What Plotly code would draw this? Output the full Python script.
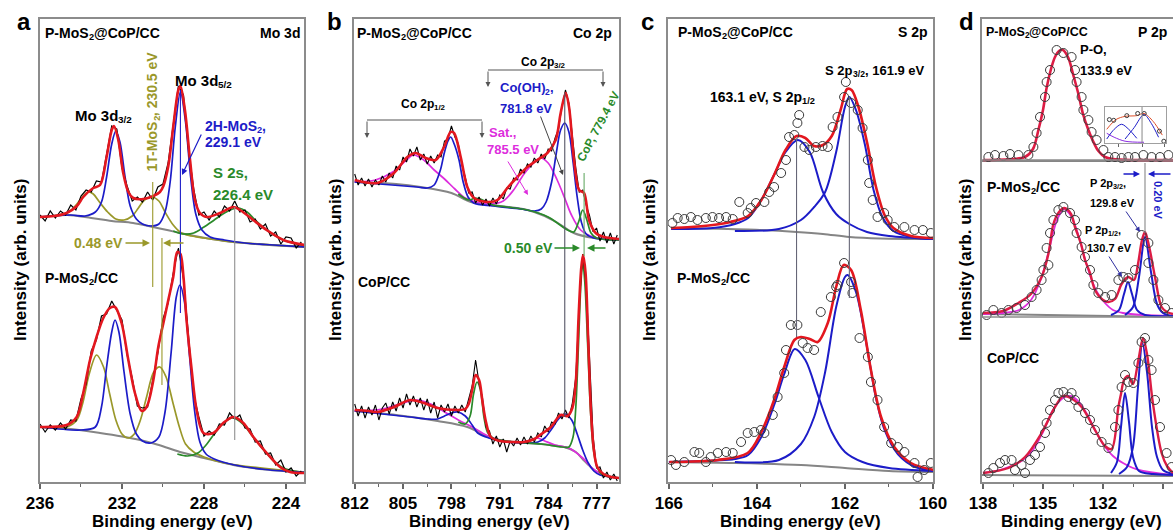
import plotly.graph_objects as go

# ---------------- Panel a : Mo 3d ----------------
A_RAW_E = [236.0, 235.75, 235.5, 235.25, 235.0, 234.75, 234.5, 234.25, 234.0, 233.75, 233.5, 233.25, 233.0,
           232.75, 232.5, 232.25, 232.0, 231.75, 231.5, 231.25, 231.0, 230.75, 230.5, 230.25, 230.0, 229.75,
           229.5, 229.25, 229.0, 228.75, 228.5, 228.25, 228.0, 227.75, 227.5, 227.25, 227.0, 226.75, 226.5,
           226.25, 226.0, 225.75, 225.5, 225.25, 225.0, 224.75, 224.5, 224.25, 224.0, 223.75, 223.5, 223.25]
A1_RAW = [267, 261, 271, 264, 271, 267, 277, 272, 286, 292, 290, 301, 300, 328, 356, 353, 314, 296, 281, 285,
          280, 290, 282, 295, 298, 319, 358, 396, 387, 332, 293, 267, 270, 262, 271, 265, 276, 271, 281, 270,
          272, 260, 263, 253, 258, 246, 250, 238, 245, 244, 234, 240]
A2_RAW = [58, 50, 57, 52, 59, 53, 62, 61, 83, 98, 131, 142, 166, 168, 181, 171, 162, 127, 104, 76, 74, 75, 103,
          129, 163, 179, 209, 234, 203, 143, 87, 65, 46, 51, 47, 58, 57, 69, 63, 67, 54, 53, 40, 41, 28, 29, 17,
          22, 10, 14, 6, 11]

A1_FIT_E = [236.0, 235.3, 234.7, 234.2, 233.89, 233.4, 233.07, 232.75, 232.5, 232.39, 232.18, 231.94, 231.69,
            231.45, 230.96, 230.47, 230.15, 229.98, 229.74, 229.5, 229.25, 229.15, 228.93, 228.68, 228.44, 228.2,
            227.87, 227.22, 226.57, 226.24, 225.6, 224.94, 224.13, 223.1]
A1_FIT = [265, 266, 269, 276, 285, 294, 297, 325, 352, 356, 342, 309, 290, 284, 283, 286, 290, 296, 316, 355,
          392, 396, 372, 322, 282, 269, 265, 269, 275, 272, 262, 252, 242, 237]
A1_BG_E = [236, 234.68, 233.5, 232.5, 231.46, 230.5, 229.8, 229.17, 228.2, 227.3, 226.59, 225.5, 224.5, 223.1]
A1_BG = [265, 267, 264, 261, 259, 255, 252, 249, 245, 242, 240, 238, 236.5, 235]
A1_BLUE_E = [236, 234.5, 233.8, 233.3, 233.0, 232.75, 232.5, 232.3, 232.1, 231.85, 231.6, 231.3, 231.0, 230.6,
             230.2, 229.9, 229.65, 229.4, 229.15, 228.9, 228.65, 228.4, 228.1, 227.7, 227.0, 226.0, 225.0, 223.1]
A1_BLUE = [265, 267, 266, 270, 280, 305, 338, 351, 340, 305, 276, 263, 258, 256, 258, 270, 300, 355, 390, 360,
           305, 268, 252, 245, 242, 239, 237.5, 235]
A1_OLIVE_E = [236, 235.2, 234.6, 234.2, 233.9, 233.66, 233.4, 233.1, 232.7, 232.3, 231.9, 231.5, 231.2, 230.9,
              230.54, 230.2, 229.9, 229.5, 229.1, 228.6, 228.0, 227.3, 226.6, 223.1]
A1_OLIVE = [265, 266.5, 270, 278, 286, 290, 288, 280, 270, 263, 262, 266, 274, 282, 285, 281, 270, 257, 249, 246,
            244, 242, 240, 235]
A1_GREEN_E = [229.5, 229.0, 228.5, 228.0, 227.5, 227.0, 226.6, 226.3, 225.9, 225.5, 225.0, 224.5, 224.0, 223.1]
A1_GREEN = [251, 248, 249, 255, 262, 269, 273, 274, 270, 262, 253, 246, 241, 236]

A2_FIT_E = [236.0, 234.7, 234.21, 233.89, 233.56, 233.24, 232.91, 232.59, 232.34, 232.02, 231.69, 231.37, 231.04,
            230.8, 230.47, 230.23, 229.98, 229.74, 229.5, 229.3, 229.15, 229.0, 228.85, 228.6, 228.36, 228.03,
            227.54, 227.06, 226.57, 226.08, 225.59, 224.94, 224.29, 223.8, 223.1]
A2_FIT = [55, 57, 65, 89, 122, 145, 164, 174, 175, 159, 122, 89, 71, 75, 102, 135, 159, 182, 205, 230, 228, 205,
          162, 112, 72, 49, 49, 59, 65, 59, 45, 29, 15, 10, 9]
A2_BG_E = [236, 234.5, 233.07, 232, 231.12, 230.2, 229.17, 228, 226.57, 225, 223.1]
A2_BG = [55, 53, 49, 45.5, 42, 37, 30, 24, 17, 12.5, 9.5]
A2_BLUE_E = [236, 234.0, 233.3, 233.0, 232.75, 232.5, 232.34, 232.15, 231.9, 231.6, 231.3, 231.0, 230.6, 230.2,
             229.9, 229.6, 229.35, 229.17, 228.95, 228.7, 228.45, 228.2, 227.9, 227.5, 226.5, 225.0, 223.1]
A2_BLUE = [55, 52, 55, 75, 115, 150, 162, 150, 110, 68, 48, 41, 39, 45, 70, 130, 185, 197, 180, 125, 70, 40, 28,
           23, 17, 12.5, 9.5]
A2_OLIVE_E = [236, 234.7, 234.2, 233.9, 233.6, 233.24, 232.9, 232.6, 232.3, 232.0, 231.7, 231.4, 231.1, 230.8,
              230.45, 230.15, 229.85, 229.5, 229.2, 228.9, 228.5, 228.0, 227.0, 223.1]
A2_OLIVE = [55, 55, 62, 80, 108, 127, 115, 88, 62, 48, 44, 48, 62, 85, 110, 115, 105, 78, 55, 38, 30, 25, 19, 9.5]
A2_GREEN_E = [229.3, 228.8, 228.3, 227.9, 227.5, 227.1, 226.6, 226.1, 225.6, 225.0, 224.5, 224.0, 223.1]
A2_GREEN = [28, 26, 29, 37, 48, 58, 64, 58, 45, 30, 19, 13, 9.5]

# ---------------- Panel b : Co 2p ----------------
B_RAW_E = [812.0, 811.5, 811.0, 810.5, 810.0, 809.5, 809.0, 808.5, 808.0, 807.5, 807.0, 806.5, 806.0, 805.5,
           805.0, 804.5, 804.0, 803.5, 803.0, 802.5, 802.0, 801.5, 801.0, 800.5, 800.0, 799.5, 799.0, 798.5,
           798.0, 797.5, 797.0, 796.5, 796.0, 795.5, 795.0, 794.5, 794.0, 793.5, 793.0, 792.5, 792.0, 791.5,
           791.0, 790.5, 790.0, 789.5, 789.0, 788.5, 788.0, 787.5, 787.0, 786.5, 786.0, 785.5, 785.0, 784.5,
           784.0, 783.5, 783.0, 782.5, 782.0, 781.5, 781.0, 780.5, 780.0, 779.5, 779.0, 778.5, 778.0, 777.5,
           777.0, 776.5, 776.0, 775.5, 775.0, 774.5, 774.0]
B1_RAW = [308, 297, 304, 296, 303, 295, 302, 297, 306, 300, 309, 304, 316, 312, 325, 320, 333, 326, 335, 322,
          328, 318, 326, 319, 327, 325, 341, 343, 356, 345, 338, 317, 305, 289, 290, 279, 285, 277, 283, 276,
          284, 278, 287, 283, 294, 293, 304, 302, 313, 309, 318, 315, 324, 319, 328, 323, 333, 331, 344, 353,
          376, 392, 379, 343, 314, 290, 292, 277, 266, 250, 254, 241, 250, 239, 249, 238, 247]
B2_RAW = [78, 66, 76, 64, 75, 67, 77, 62, 74, 79, 68, 80, 71, 84, 74, 88, 77, 86, 75, 84, 72, 83, 69, 80, 64, 77,
          70, 78, 66, 76, 69, 77, 70, 82, 96, 122, 99, 84, 55, 51, 38, 46, 35, 43, 30, 41, 36, 44, 37, 45, 38, 46,
          40, 49, 45, 56, 50, 60, 58, 69, 63, 72, 64, 79, 105, 178, 228, 198, 113, 46, 14, 15, 4, 10, 2, 8, 1]

B1_FIT_E = [812, 808.72, 806.31, 804.38, 803.17, 801.73, 800.28, 799.07, 798.11, 797.62, 796.66, 795.7, 794.73,
            792.8, 791.35, 789.91, 788.46, 787.01, 785.57, 784.12, 782.91, 782.19, 781.46, 780.98, 780.26, 779.53,
            778.81, 778.09, 777.12, 775.92, 773.75]
B1_FIT = [302, 299, 309, 325, 329, 324, 322, 335, 350, 349, 325, 295, 284, 280, 282, 294, 305, 315, 322, 329, 342,
          369, 389, 375, 322, 292, 289, 262, 249, 245, 243]
B1_BG_E = [812, 806, 802.45, 798, 795.2, 791, 787, 784.5, 782.6, 780.3, 777.4, 773.75]
B1_BG = [300, 298, 295, 289, 280, 276, 272, 266, 259, 249, 244, 242]
B1_MAG_E = [812, 809, 806.5, 804.5, 803.5, 802, 800.5, 799, 797.5, 796, 794.5, 792.5, 790.5, 789, 787.5, 786,
            785.1, 784, 782.7, 781.5, 780.7, 779.3, 777.4, 773.75]
B1_MAG = [300, 302, 310, 322, 327, 322, 312, 303, 293, 284, 280, 278, 281, 292, 308, 320, 324, 319, 302, 282, 268,
          252, 245, 242]
B1_BLUE_E = [812, 803, 801.5, 800.5, 799.6, 799.07, 798.5, 798.1, 797.6, 796.9, 796.3, 795.6, 794.8, 792, 788,
             786, 785, 784.3, 783.5, 782.8, 782.2, 781.6, 781.0, 780.4, 779.8, 779.2, 778.5, 777.4, 773.75]
B1_BLUE = [300, 295, 294, 297, 312, 328, 341, 345, 338, 322, 300, 285, 279, 276, 273, 271, 273, 280, 300, 330, 352,
           359, 350, 320, 285, 260, 248, 244, 242]
B1_GREEN_E = [797, 795.5, 794.5, 793.5, 792, 790, 787, 784, 782.5, 781.2, 780.3, 779.6, 779.0, 778.4, 777.8,
              777.0, 773.75]
B1_GREEN = [288, 282, 284, 282, 277, 275, 272, 265, 258, 252, 250, 260, 272, 262, 249, 244, 242]

B2_FIT_E = [812, 810, 808.7, 806.3, 804, 802, 800, 797.1, 796, 795.5, 795, 794.5, 794, 793.5, 793, 792.3, 791,
            789, 787.5, 786, 785, 783.6, 782.2, 781.2, 780.5, 780.0, 779.6, 779.2, 778.95, 778.6, 778.2, 777.8,
            777.4, 776.9, 776, 774.9, 773.75]
B2_FIT = [72, 71, 70, 75, 82, 79, 74, 72, 73, 78, 92, 107, 102, 80, 60, 45, 41, 40, 40, 43, 48, 55, 67, 66, 74,
          100, 165, 215, 227, 210, 140, 70, 33, 15, 8, 5, 4]
B2_BG_E = [812, 806, 800, 795.7, 792.3, 789, 785, 781.7, 780, 778.9, 777.85, 776.5, 773.75]
B2_BG = [71, 67, 61, 55, 44, 40, 38, 35, 30, 22, 15, 8, 4]
B2_MAG_E = [812, 808, 805, 803, 801, 799, 797, 795, 793, 791, 789, 787, 785.6, 784.5, 783, 781, 779, 777.5,
            776, 773.75]
B2_MAG = [71, 73, 79, 82, 78, 70, 62, 55, 47, 42, 40, 41, 44, 41, 37, 34, 24, 13, 7, 4]
B2_BLUE_E = [812, 804, 801.5, 800, 799, 798, 797.1, 796, 795, 794.2, 793, 791, 788, 785.5, 784.5, 783.5, 782.5,
             781.5, 780.6, 779.8, 779, 778.2, 777.4, 776.5, 773.75]
B2_BLUE = [71, 65, 63, 63, 66, 69, 70, 66, 57, 49, 45, 41, 39, 40, 44, 53, 63, 68, 62, 48, 32, 19, 11, 7, 4]
B2_GREEN_E = [797, 796, 795.3, 794.8, 794.3, 793.8, 793.3, 792.8, 792, 789, 785, 782, 781, 780.4, 780.0, 779.6,
              779.25, 779.0, 778.7, 778.3, 777.9, 777.5, 777, 776.3, 773.75]
B2_GREEN = [60, 58, 66, 88, 100, 92, 65, 50, 44, 40, 38, 35, 35, 45, 75, 140, 200, 220, 200, 140, 75, 35, 17, 8, 4]

# ---------------- Panel c : S 2p ----------------
C1_PTS_E = [165.92, 165.80, 165.65, 165.50, 165.35, 165.16, 165.01, 164.86, 164.70, 164.55, 164.40, 164.21,
            164.14, 164.02, 163.83, 163.72, 163.61, 163.45, 163.34, 163.27, 163.15, 163.08, 163.04, 162.92,
            162.81, 162.66, 162.51, 162.39, 162.28, 162.17, 162.02, 161.98, 161.86, 161.71, 161.60, 161.48,
            161.45, 161.37, 161.26, 161.11, 161.03, 160.88, 160.65, 160.42, 160.23, 160.05]
C1_PTS = [259, 264, 263, 265, 262, 264, 265, 264, 265, 263, 280, 269, 274, 279, 280, 290, 295, 309, 322, 345,
          347, 359, 367, 335, 332, 335, 336, 335, 355, 365, 385, 400, 379, 372, 354, 322, 299, 282, 265, 269,
          262, 255, 255, 252, 252, 249]
C1_FIT_E = [165.95, 165.5, 165.0, 164.6, 164.2, 163.9, 163.6, 163.35, 163.1, 162.9, 162.7, 162.5, 162.3, 162.1,
            161.95, 161.85, 161.7, 161.5, 161.3, 161.1, 160.9, 160.5, 160.0]
C1_FIT = [254, 255, 257, 260, 266, 282, 308, 332, 346, 344, 336, 337, 346, 372, 393, 392, 376, 340, 296, 267,
          254, 246, 244]
C1_BG_E = [165.95, 164.2, 163.1, 162.5, 161.9, 161.2, 160.0]
C1_BG = [254, 252.5, 250, 248, 245, 243.5, 243]
C1_B1_E = [165.95, 165.0, 164.5, 164.2, 163.9, 163.6, 163.35, 163.07, 162.8, 162.5, 162.2, 161.9, 161.5, 161.0,
           160.0]
C1_B1 = [253, 254, 258, 264, 282, 308, 330, 342, 330, 290, 268, 258, 250, 246, 243]
C1_B2_E = [164.5, 163.5, 163.0, 162.7, 162.45, 162.2, 162.0, 161.9, 161.75, 161.55, 161.35, 161.15, 160.9,
           160.5, 160.0]
C1_B2 = [251, 253, 262, 275, 290, 330, 375, 385, 372, 338, 292, 265, 251, 245, 243]

C2_PTS_E = [165.95, 165.84, 165.65, 165.42, 165.31, 165.16, 165.05, 164.89, 164.70, 164.55, 164.36, 164.21,
            164.06, 163.91, 163.83, 163.64, 163.53, 163.38, 163.34, 163.23, 163.08, 162.96, 162.85, 162.70,
            162.55, 162.32, 162.20, 162.17, 162.02, 161.86, 161.83, 161.67, 161.48, 161.41, 161.26, 161.11,
            160.95, 160.80, 160.65, 160.42, 160.35, 160.20, 160.05]
C2_PTS = [22, 17, 20, 30, 29, 20, 25, 29, 30, 29, 40, 49, 50, 52, 49, 67, 85, 109, 132, 157, 157, 139, 134, 132,
          170, 185, 195, 197, 219, 200, 189, 144, 125, 100, 82, 55, 39, 35, 30, 19, 5, 12, 19]
C2_FIT_E = [165.99, 164.89, 164.21, 163.91, 163.61, 163.38, 163.15, 163.0, 162.8, 162.62, 162.39, 162.2, 162.03,
            161.86, 161.64, 161.41, 161.18, 160.88, 160.5, 159.97]
C2_FIT = [20, 22, 29, 49, 82, 115, 142, 145, 143, 140, 159, 195, 217, 212, 172, 112, 65, 35, 19, 12]
C2_BG_E = [166, 164.5, 163, 162, 161, 160]
C2_BG = [20, 19, 17, 14, 11, 10]
C2_B1_E = [166, 165, 164.5, 164.2, 163.9, 163.6, 163.38, 163.14, 162.9, 162.6, 162.3, 162.0, 161.6, 161.0, 160.0]
C2_B1 = [20, 21.5, 23, 27, 45, 78, 108, 133, 122, 85, 50, 30, 20, 14, 11]
C2_B2_E = [164.5, 163.5, 163.0, 162.7, 162.45, 162.2, 162.0, 161.94, 161.75, 161.5, 161.3, 161.1, 160.8, 160.4,
           160.0]
C2_B2 = [20, 22, 38, 65, 110, 175, 205, 207, 190, 135, 85, 52, 28, 15, 12]

# ---------------- Panel d : P 2p ----------------
D1_PTS_E = [137.73, 137.4, 136.98, 136.65, 136.23, 135.73, 135.48, 135.32, 135.15, 134.9, 134.82, 134.65, 134.32,
            133.98, 133.57, 133.4, 133.32, 133.07, 132.98, 132.73, 132.57, 132.32, 131.98, 131.73, 131.4, 131.07,
            130.73, 130.4, 129.98, 129.57, 129.15, 128.73]
D1_PTS = [325, 327, 326, 328, 327, 327, 335, 349, 365, 385, 400, 412, 432, 429, 425, 412, 400, 385, 372, 362,
          350, 342, 332, 325, 325, 324, 325, 325, 327, 325, 325, 327]
D1_FIT_E = [138.0, 136.5, 135.9, 135.5, 135.23, 135.0, 134.82, 134.6, 134.4, 134.2, 134.0, 133.73, 133.5, 133.23,
            133.0, 132.73, 132.5, 132.23, 131.9, 131.5, 130.5, 129.5, 128.5]
D1_FIT = [322, 323, 325, 333, 352, 372, 394, 413, 425, 431, 432, 424, 408, 388, 368, 352, 341, 331, 325, 323, 322,
          322, 322]

D2_PTS_E = [137.82, 137.48, 137.07, 136.73, 136.32, 135.9, 135.57, 135.32, 135.07, 134.98, 134.73, 134.82, 134.65,
            134.48, 134.23, 133.98, 133.65, 133.4, 133.32, 133.07, 132.9, 132.65, 132.48, 132.23, 131.9, 131.57,
            131.23, 130.98, 130.73, 130.4, 130.07, 129.73, 129.73, 129.48, 129.23, 128.9, 128.57]
D2_PTS = [167, 172, 169, 172, 174, 177, 185, 192, 202, 212, 217, 234, 249, 262, 272, 275, 269, 262, 249, 235, 225,
          212, 197, 189, 185, 187, 202, 205, 204, 212, 247, 239, 219, 202, 182, 174, 169]
D2_FIT_E = [138, 137, 136.23, 135.6, 135.07, 134.73, 134.48, 134.2, 133.93, 133.6, 133.4, 133.1, 132.9, 132.65,
            132.4, 132.0, 131.73, 131.4, 131.07, 130.75, 130.45, 130.25, 130.05, 129.9, 129.7, 129.4, 129.07,
            128.8, 128.5]
D2_FIT = [169, 171, 179, 188, 205, 228, 258, 270, 274, 268, 255, 238, 222, 209, 192, 182, 180, 183, 198, 205, 202,
          218, 242, 250, 236, 205, 175, 170, 168]
D2_MAG_E = [138, 137, 136.2, 135.6, 135.1, 134.7, 134.3, 133.95, 133.6, 133.2, 132.9, 132.6, 132.3, 131.9, 131.5,
            131, 130, 128.5]
D2_MAG = [168, 169, 172, 182, 203, 232, 262, 273, 266, 245, 223, 204, 190, 179, 172, 169, 167, 166]
D2_B1_E = [131.6, 131.2, 130.95, 130.75, 130.55, 130.3, 129.9, 128.5]
D2_B1 = [167, 172, 188, 200, 188, 172, 167, 166]
D2_B2_E = [130.9, 130.5, 130.2, 129.9, 129.6, 129.3, 129.0, 128.5]
D2_B2 = [167, 175, 205, 245, 210, 178, 169, 166]

D3_PTS_E = [137.73, 137.48, 137.15, 136.9, 136.57, 136.4, 136.07, 135.9, 135.65, 135.4, 135.15, 134.9, 134.82,
            134.65, 134.4, 134.23, 133.98, 133.73, 133.57, 133.4, 133.23, 132.9, 132.65, 132.4, 132.07, 131.73,
            131.4, 131.23, 131.07, 130.9, 130.73, 130.48, 130.23, 130.07, 129.9, 129.73, 129.57, 129.4, 129.15,
            128.82, 128.57]
D3_PTS = [9, 14, 19, 22, 22, 12, 17, 9, 22, 27, 35, 49, 59, 72, 82, 89, 90, 85, 89, 82, 75, 69, 62, 52, 40, 34,
          55, 72, 95, 107, 100, 99, 119, 140, 144, 122, 112, 82, 55, 29, 15]
D3_FIT_E = [138, 136.73, 135.9, 135.07, 134.4, 134.0, 133.73, 133.07, 132.4, 131.9, 131.57, 131.23, 131.1, 130.95,
            130.75, 130.5, 130.23, 130.0, 129.8, 129.5, 129.07, 128.8, 128.5]
D3_FIT = [9, 14, 25, 49, 75, 86, 85, 75, 52, 36, 33, 75, 88, 102, 106, 98, 122, 144, 128, 78, 29, 16, 9]
D3_MAG_E = [138, 137, 136, 135.5, 135, 134.5, 134, 133.6, 133.2, 132.8, 132.4, 132, 131.5, 131, 130.5, 130, 129,
            128.5]
D3_MAG = [9, 13, 22, 32, 50, 72, 84, 86, 80, 68, 52, 38, 26, 19, 14, 11, 8, 7]
D3_B1_E = [131.6, 131.3, 131.1, 130.9, 130.7, 130.5, 130.2, 129.5, 128.5]
D3_B1 = [9, 20, 55, 89, 60, 25, 11, 8, 7]
D3_B2_E = [131.2, 130.8, 130.5, 130.25, 130.03, 129.8, 129.55, 129.3, 129.0, 128.5]
D3_B2 = [8, 15, 35, 95, 139, 110, 55, 25, 12, 8]

D_BG_E = [138.05, 128.5]
D1_BG = [321, 321]
D2_BG = [168, 165]
D3_BG = [7, 6]

# inset of panel d (relative intensity)
IN_RED_E = [131.52, 131.1, 130.68, 130.14, 129.81, 129.39, 128.97]
IN_RED = [0.38, 0.65, 0.74, 0.76, 0.82, 0.6, 0.22]
IN_B1_E = [131.52, 131.18, 130.84, 130.51, 130.14]
IN_B1 = [0.11, 0.38, 0.52, 0.38, 0.13]
IN_B2_E = [130.68, 130.26, 129.81, 129.47, 129.14]
IN_B2 = [0.11, 0.43, 0.79, 0.54, 0.16]
IN_MAG_E = [131.52, 131.18, 130.68, 129.81]
IN_MAG = [0.27, 0.16, 0.05, 0.02]
IN_PTS_E = [131.4, 131.2, 130.6, 130.1, 129.8, 129.1, 128.9]
IN_PTS = [0.65, 0.63, 0.76, 0.82, 0.82, 0.33, 0.05]

# ---------------- styling ----------------
W, H = 1173, 531
FONT = "Liberation Sans, Arial, Helvetica, sans-serif"
RED = "#e3171f"
DRED = "#dc1c44"
BLUE = "#1c1cc8"
OLIVE = "#9a982a"
GREEN = "#2a8a2a"
MAG = "#dd2ddd"
GRAY = "#858585"
FRAME = "#8c8c8c"

# Arial/Liberation Sans Bold advance widths (1/1000 em)
CHAR_W = {" ": 278, ",": 278, "-": 333, ".": 278, "/": 278, "(": 333, ")": 333, "@": 975,
          "C": 722, "H": 722, "M": 833, "O": 778, "P": 667, "S": 667, "T": 611, "V": 667,
          "c": 556, "d": 611, "e": 556, "o": 611, "p": 611}
for _d in "0123456789":
    CHAR_W[_d] = 556


def fx(x):
    return x / W


def fy(y):
    return (H - y) / H


def text_w(s, size):
    return sum(CHAR_W.get(ch, 600) for ch in s) * size / 1000.0


fig = go.Figure()


def axn(n):
    return ("x", "y") if n == 1 else (f"x{n}", f"y{n}")


def line(xs, ys, n, color, width, shape="spline"):
    xa, ya = axn(n)
    fig.add_trace(go.Scatter(x=xs, y=ys, xaxis=xa, yaxis=ya, mode="lines",
                             line=dict(color=color, width=width, shape=shape,
                                       smoothing=0.9 if shape == "spline" else None),
                             hoverinfo="skip"))


def dots(xs, ys, n, size=9):
    xa, ya = axn(n)
    fig.add_trace(go.Scatter(x=xs, y=ys, xaxis=xa, yaxis=ya, mode="markers",
                             marker=dict(symbol="circle-open", size=size, color="#3a3a3a",
                                         line=dict(width=1)),
                             hoverinfo="skip"))


# panel a
for bg, ol, gr, bl, raw, fit, ebg, eol, egr, ebl, efit in [
    (A1_BG, A1_OLIVE, A1_GREEN, A1_BLUE, A1_RAW, A1_FIT, A1_BG_E, A1_OLIVE_E, A1_GREEN_E, A1_BLUE_E, A1_FIT_E),
    (A2_BG, A2_OLIVE, A2_GREEN, A2_BLUE, A2_RAW, A2_FIT, A2_BG_E, A2_OLIVE_E, A2_GREEN_E, A2_BLUE_E, A2_FIT_E),
]:
    line(ebg, bg, 1, GRAY, 2)
    line(eol, ol, 1, OLIVE, 1.7)
    line(egr, gr, 1, GREEN, 1.7)
    line(ebl, bl, 1, BLUE, 1.7)
    line(A_RAW_E, raw, 1, "black", 1.2, "linear")
    line(efit, fit, 1, RED, 2.6)

# panel b
for bg, mg, bl, gr, raw, fit, ebg, emg, ebl, egr, efit in [
    (B1_BG, B1_MAG, B1_BLUE, B1_GREEN, B1_RAW, B1_FIT, B1_BG_E, B1_MAG_E, B1_BLUE_E, B1_GREEN_E, B1_FIT_E),
    (B2_BG, B2_MAG, B2_BLUE, B2_GREEN, B2_RAW, B2_FIT, B2_BG_E, B2_MAG_E, B2_BLUE_E, B2_GREEN_E, B2_FIT_E),
]:
    line(ebg, bg, 2, GRAY, 2)
    line(emg, mg, 2, MAG, 1.7)
    line(ebl, bl, 2, BLUE, 1.7)
    line(egr, gr, 2, GREEN, 1.7)
    line(B_RAW_E, raw, 2, "black", 1.1, "linear")
    line(efit, fit, 2, RED, 2.6)

# panel c
for ebg, bg, e1, b1, e2, b2, ef, f, ep, p in [
    (C1_BG_E, C1_BG, C1_B1_E, C1_B1, C1_B2_E, C1_B2, C1_FIT_E, C1_FIT, C1_PTS_E, C1_PTS),
    (C2_BG_E, C2_BG, C2_B1_E, C2_B1, C2_B2_E, C2_B2, C2_FIT_E, C2_FIT, C2_PTS_E, C2_PTS),
]:
    line(ebg, bg, 3, GRAY, 2)
    line(e1, b1, 3, BLUE, 2)
    line(e2, b2, 3, BLUE, 2)
    line(ef, f, 3, RED, 2.6)
    dots(ep, p, 3)

# panel d
line(D_BG_E, D1_BG, 4, GRAY, 2, "linear")
line(D1_FIT_E, D1_FIT, 4, DRED, 2.6)
dots(D1_PTS_E, D1_PTS, 4)
line(D_BG_E, D2_BG, 4, GRAY, 2, "linear")
line(D2_MAG_E, D2_MAG, 4, MAG, 1.8)
line(D2_B1_E, D2_B1, 4, BLUE, 2)
line(D2_B2_E, D2_B2, 4, BLUE, 2)
line(D2_FIT_E, D2_FIT, 4, DRED, 2.4)
dots(D2_PTS_E, D2_PTS, 4)
line(D_BG_E, D3_BG, 4, GRAY, 2, "linear")
line(D3_MAG_E, D3_MAG, 4, MAG, 1.8)
line(D3_B1_E, D3_B1, 4, BLUE, 2)
line(D3_B2_E, D3_B2, 4, BLUE, 2)
line(D3_FIT_E, D3_FIT, 4, DRED, 2.4)
dots(D3_PTS_E, D3_PTS, 4)

# inset
line(IN_MAG_E, IN_MAG, 5, "#8a2be2", 1)
line(IN_B1_E, IN_B1, 5, BLUE, 1)
line(IN_B2_E, IN_B2, 5, BLUE, 1)
line(IN_RED_E, IN_RED, 5, "#e0502a", 1)
dots(IN_PTS_E, IN_PTS, 5, size=4)

# ---------------- axes ----------------
YDOM = [fy(482), fy(19)]
tickfont = dict(family=FONT, size=17, color="black", weight="bold")


def xaxis(dom, rng, tick0, dtick, mdtick, anchor):
    return dict(domain=dom, range=rng, anchor=anchor, automargin=False, showline=True, linecolor=FRAME,
                linewidth=1.5, mirror=True, ticks="outside", ticklen=5, tickwidth=1.5, tickcolor="#666",
                tick0=tick0, dtick=dtick,
                minor=dict(ticks="outside", ticklen=3, tickwidth=1.2, tickcolor="#666", tick0=tick0, dtick=mdtick),
                showgrid=False, zeroline=False, tickfont=tickfont, fixedrange=True)


def yaxis(anchor):
    return dict(domain=YDOM, range=[0, 463], anchor=anchor, automargin=False, showline=True, linecolor=FRAME,
                linewidth=1.5, mirror=True, showticklabels=False, ticks="", showgrid=False, zeroline=False,
                fixedrange=True)


fig.update_layout(
    width=W, height=H, autosize=False, margin=dict(l=0, r=0, t=0, b=0, pad=0, autoexpand=False),
    paper_bgcolor="white", plot_bgcolor="white",
    showlegend=False, font=dict(family=FONT, color="black"),
    xaxis=xaxis([fx(40), fx(304)], [236, 223.12], 224, 4, 2, "y"),
    yaxis=yaxis("x"),
    xaxis2=xaxis([fx(354), fx(619)], [812.1, 773.75], 777, 7, 3.5, "y2"),
    yaxis2=yaxis("x2"),
    xaxis3=xaxis([fx(668), fx(933)], [166.02, 160.0], 160, 2, 1, "y3"),
    yaxis3=yaxis("x3"),
    xaxis4=xaxis([fx(982), 1.0], [138.05, 128.5], 129, 3, 1.5, "y4"),
    yaxis4=yaxis("x4"),
    xaxis5=dict(domain=[fx(1105), fx(1166)], range=[131.6, 128.8], anchor="y5", automargin=False, showline=True,
                mirror=True, linecolor="#a0a0a0", linewidth=1, ticks="outside", ticklen=3, tickcolor="#666",
                tickvals=[131.0, 129.9, 128.85], showticklabels=False, showgrid=False, zeroline=False,
                fixedrange=True),
    yaxis5=dict(domain=[fy(143), fy(107)], range=[0, 1], anchor="x5", automargin=False, showline=True, mirror=True,
                linecolor="#a0a0a0", linewidth=1, showticklabels=False, ticks="", showgrid=False,
                zeroline=False, fixedrange=True),
)

# reference lines (data coordinates)
REF_LINES = [
    ("x", "y", 230.5, 300, 195, OLIVE), ("x", "y", 230.05, 244, 97, OLIVE),
    ("x", "y", 229.15, 392, 169, BLUE), ("x", "y", 226.5, 275, 42, "#909090"),
    ("x2", "y2", 781.6, 389, 65, "#555566"), ("x2", "y2", 778.8, 309, 226, "#66aa66"),
    ("x3", "y3", 163.1, 342, 145, "#666677"), ("x3", "y3", 161.9, 385, 184, "#666677"),
    ("x4", "y4", 129.9, 319, 249, "#888888"),
]
for xr, yr, e, v0, v1, col in REF_LINES:
    fig.add_shape(type="line", xref=xr, yref=yr, x0=e, x1=e, y0=v0, y1=v1, line=dict(color=col, width=1.1))
fig.add_shape(type="line", xref="x5", yref="y5 domain", x0=129.9, x1=129.9, y0=0, y1=1,
              line=dict(color="#888888", width=1))

# dividers of panel d
for yy in (160, 317):
    fig.add_shape(type="line", xref="paper", yref="paper", x0=fx(982), x1=1.0, y0=fy(yy), y1=fy(yy),
                  line=dict(color=FRAME, width=1.5))

# brackets in panel b
for x0, x1, yy in ((488, 603, 70), (367, 482, 120)):
    fig.add_shape(type="line", xref="paper", yref="paper", x0=fx(x0), x1=fx(x1), y0=fy(yy), y1=fy(yy),
                  line=dict(color="#555", width=1))


def _ann(cx, cy, text, size, color, angle=0):
    fig.add_annotation(x=fx(cx), y=fy(cy), xref="paper", yref="paper", text=text, showarrow=False,
                       font=dict(family=FONT, size=size, color=color, weight="bold"), xanchor="center",
                       yanchor="middle", textangle=angle, borderpad=0, borderwidth=0)


def parts_of(s):
    out = []
    while s:
        i = s.find("_{")
        if i < 0:
            out.append((s, False))
            break
        if i > 0:
            out.append((s[:i], False))
        j = s.find("}", i)
        out.append((s[i + 2:j], True))
        s = s[j + 1:]
    return out


SUB_SCALE = 0.66


def label(x, y, text, size=14, color="black", xanchor="center", angle=0):
    """Text with optional _{subscript} parts, laid out piece by piece."""
    parts = parts_of(text)
    widths = [text_w(t, size * (SUB_SCALE if sub else 1.0)) for t, sub in parts]
    total = sum(widths)
    if angle == 0:
        start = x - total / 2 if xanchor == "center" else (x if xanchor == "left" else x - total)
        cur = start
        for (t, sub), w in zip(parts, widths):
            _ann(cur + w / 2, y + (0.3 * size if sub else 0), t, size * (SUB_SCALE if sub else 1.0), color)
            cur += w
    elif angle == -90:
        cur = y + total / 2
        for (t, sub), w in zip(parts, widths):
            _ann(x + (0.3 * size if sub else 0), cur - w / 2, t, size * (SUB_SCALE if sub else 1.0), color, -90)
            cur -= w
    else:
        _ann(x, y, text, size, color, angle)


def arrow(x, y, ax, ay, color, width=1.2):
    fig.add_annotation(x=fx(x), y=fy(y), xref="paper", yref="paper", ax=ax, ay=ay, axref="pixel",
                       ayref="pixel", text="", showarrow=True, arrowhead=2, arrowsize=1, arrowwidth=width,
                       arrowcolor=color, font=dict(size=10))


# panel letters
label(24, 22, "a", 24)
label(334, 22, "b", 24)
label(647, 22, "c", 24)
label(966, 22, "d", 24)

# axis titles
for cx in (172, 489, 800, 1081):
    label(cx, 521, "Binding energy (eV)", 17)
for cx in (20, 335, 649, 965):
    _ann(cx, 260, "Intensity (arb. units)", 17, "black", -90)

# panel a labels
label(45, 33, "P-MoS_{2}@CoP/CC", 14, xanchor="left")
label(300, 33, "Mo 3d", 14, xanchor="right")
label(203, 80, "Mo 3d_{5/2}", 15)
label(103, 115, "Mo 3d_{3/2}", 15)
label(152, 112, "1T-MoS_{2}, 230.5 eV", 14, OLIVE, angle=-90)
label(205, 126, "2H-MoS_{2},", 14, BLUE, xanchor="left")
label(205, 142, "229.1 eV", 14, BLUE, xanchor="left")
arrow(182, 175, 20, -42, BLUE)
label(213, 172, "S 2s,", 15, GREEN, xanchor="left")
label(213, 195, "226.4 eV", 15, GREEN, xanchor="left")
label(98, 243, "0.48 eV", 14, OLIVE)
arrow(150, 243, -26, 0, OLIVE, 1.5)
arrow(163, 243, 22, 0, OLIVE, 1.5)
label(45, 278, "P-MoS_{2}/CC", 14, xanchor="left")

# panel b labels
label(357, 33, "P-MoS_{2}@CoP/CC", 14, xanchor="left")
label(612, 33, "Co 2p", 14, xanchor="right")
label(543, 62, "Co 2p_{3/2}", 12)
label(423, 104, "Co 2p_{1/2}", 12)
arrow(488, 87, 0, -17, "#555", 1)
arrow(603, 87, 0, -17, "#555", 1)
arrow(367, 138, 0, -18, "#555", 1)
arrow(482, 138, 0, -18, "#555", 1)
label(500, 88, "Co(OH)_{2},", 13, BLUE, xanchor="left")
label(500, 108, "781.8 eV", 13, BLUE, xanchor="left")
arrow(563, 175, -23, -60, "#444", 1)
label(487, 133, "Sat.,", 13, MAG, xanchor="left")
label(487, 150, "785.5 eV", 13, MAG, xanchor="left")
arrow(528, 195, -21, -35, MAG, 1)
label(598, 127, "CoP, 779.4 eV", 12, GREEN, angle=-62)
label(528, 248, "0.50 eV", 14, GREEN)
arrow(580, 248, -27, 0, GREEN, 1.5)
arrow(587, 248, 20, 0, GREEN, 1.5)
label(358, 282, "CoP/CC", 14, xanchor="left")

# panel c labels
label(678, 32, "P-MoS_{2}@CoP/CC", 14, xanchor="left")
label(928, 32, "S 2p", 14, xanchor="right")
label(875, 70, "S 2p_{3/2}, 161.9 eV", 13)
label(762, 97, "163.1 eV, S 2p_{1/2}", 14)
label(677, 278, "P-MoS_{2}/CC", 14, xanchor="left")

# panel d labels
label(986, 32, "P-MoS_{2}@CoP/CC", 12.5, xanchor="left")
label(1138, 32, "P 2p", 14, xanchor="left")
label(1080, 50, "P-O,", 13, xanchor="left")
label(1080, 70, "133.9 eV", 13, xanchor="left")
label(987, 187, "P-MoS_{2}/CC", 14, xanchor="left")
label(1090, 183, "P 2p_{3/2},", 11, xanchor="left")
label(1090, 203, "129.8 eV", 11, xanchor="left")
arrow(1140, 232, -15, -22, "#3030a0", 1)
label(1085, 230, "P 2p_{1/2},", 11, xanchor="left")
label(1087, 248, "130.7 eV", 11, xanchor="left")
arrow(1122, 277, -14, -22, "#3030a0", 1)
_ann(1158, 200, "0.20 eV", 11, BLUE, 90)
arrow(1140, 174, -18, 0, BLUE, 1.3)
arrow(1148, 174, 24, 0, BLUE, 1.3)
label(987, 358, "CoP/CC", 14, xanchor="left")

fig.write_html("out.html", config={"displayModeBar": False},
               post_script="document.body.style.margin='0';document.body.style.overflow='hidden';")
